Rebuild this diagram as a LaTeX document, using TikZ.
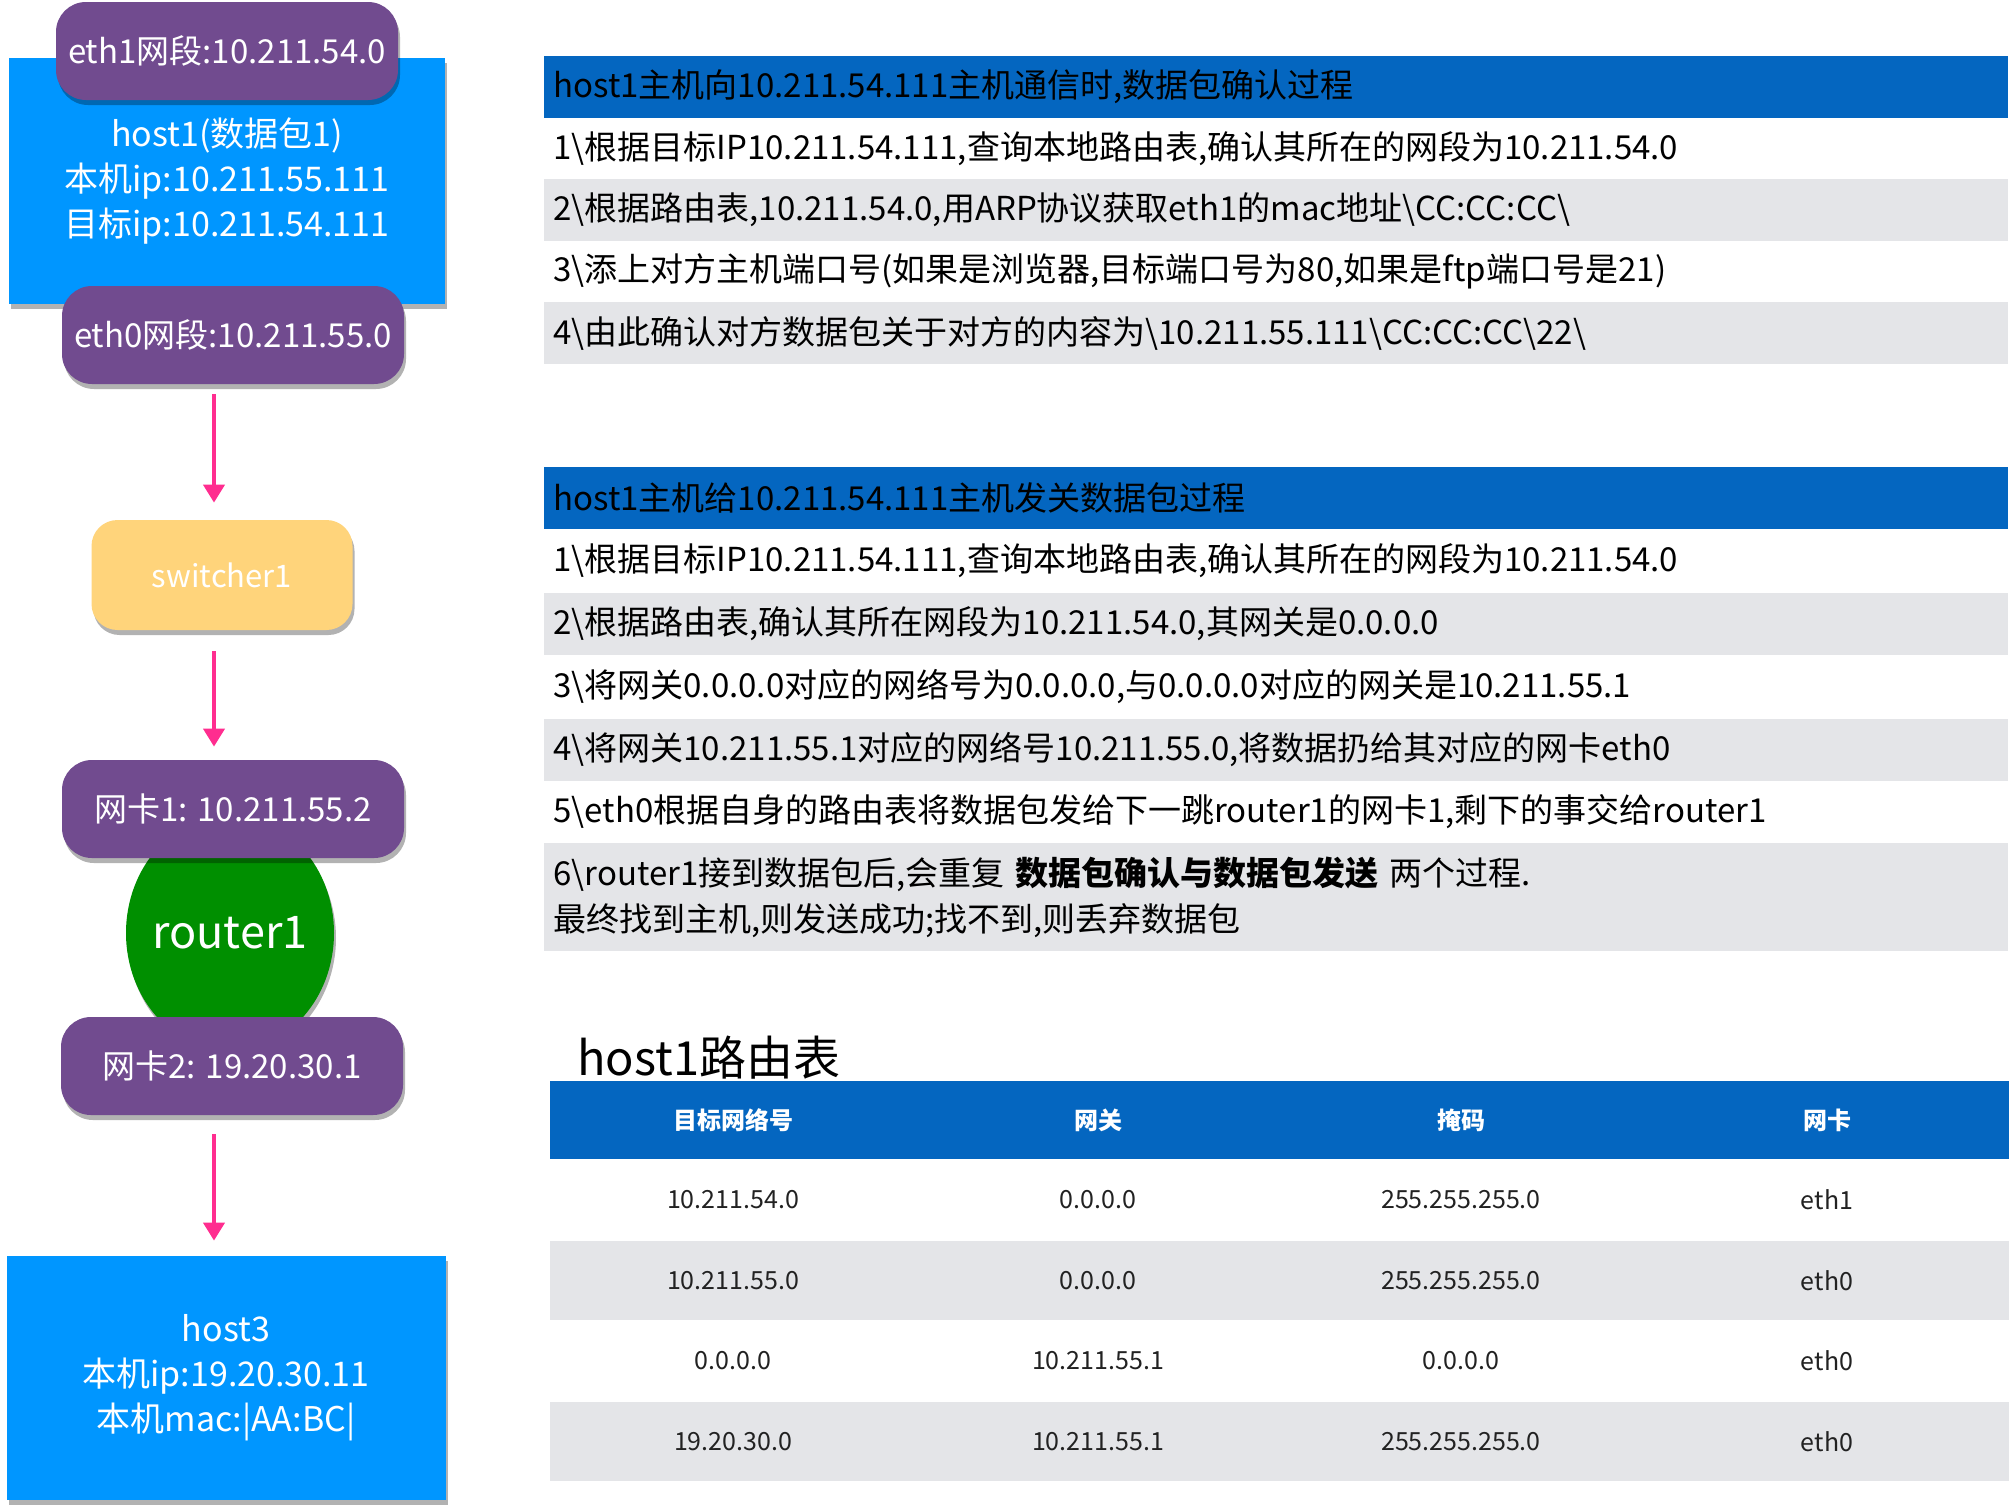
\documentclass[tikz,border=0pt]{standalone}
\usepackage{fontspec}
\setmainfont{Noto Sans CJK SC}
\usetikzlibrary{shapes.geometric,arrows.meta,shadows}
\newdimen\pxu \pxu=0.5pt
\definecolor{hostblue}{HTML}{0096FF}
\definecolor{pillpurple}{HTML}{714B8F}
\definecolor{swyellow}{HTML}{FFD47B}
\definecolor{rtgreen}{HTML}{008F00}
\definecolor{arrpink}{HTML}{FF2D8F}
\definecolor{hdrblue}{HTML}{0466C0}
\definecolor{rowgray}{HTML}{E4E5E8}
\definecolor{celltext}{HTML}{222222}
\begin{document}
\begin{tikzpicture}[x=0.5pt,y=-0.5pt,
  shad/.style={drop shadow={shadow xshift=1pt,shadow yshift=-2.5pt,opacity=0.3,fill=black}},
  hostbox/.style={shad, fill=hostblue, text=white, align=center, inner sep=0pt,
    minimum width=436\pxu, minimum height=246\pxu, font=\fontsize{17pt}{22.5pt}\selectfont},
  pill/.style={shad, fill=pillpurple, rounded corners=15pt, text=white, inner sep=0pt,
    minimum width=342\pxu, minimum height=98\pxu, font=\fontsize{16.5pt}{20pt}\selectfont},
  swbox/.style={shad, fill=swyellow, rounded corners=13pt, text=white, inner sep=0pt,
    minimum width=261\pxu, minimum height=110\pxu, font=\fontsize{15.5pt}{19pt}\selectfont},
  rtnode/.style={shad, ellipse, fill=rtgreen, inner sep=0pt,
    minimum width=208\pxu, minimum height=236\pxu},
  rttext/.style={text=white, inner sep=0pt, font=\fontsize{22.5pt}{26pt}\selectfont},
  arr/.style={draw=arrpink, line width=2pt, -{Triangle[width=10.5pt,length=9pt]}},
  rowbox/.style={anchor=west, inner xsep=9\pxu, inner ysep=0pt, text width=1446\pxu,
    minimum height=62\pxu, align=left, text=black, font=\fontsize{16.5pt}{23pt}\selectfont},
  hdr/.style={rowbox, fill=hdrblue},
  grayrow/.style={rowbox, fill=rowgray},
  tabrow/.style={anchor=west, inner sep=0pt, minimum width=1459\pxu, minimum height=79\pxu},
  th/.style={text=white, font=\fontsize{12pt}{14pt}\selectfont\bfseries},
  td/.style={text=celltext, font=\fontsize{12.5pt}{15pt}\selectfont}
]
\useasboundingbox (0,0) rectangle (2013,1510);
\fill[white] (0,0) rectangle (2013,1510);

% ---------------- left column ----------------
\node[hostbox] (host1) at (227,181) {\rule{0pt}{6pt}host1(数据包1)\\本机ip:10.211.55.111\\目标ip:10.211.54.111};
\node[pill] (eth1) at (227,51) {eth1网段:10.211.54.0};
\node[pill] (eth0) at (233,335) {eth0网段:10.211.55.0};
\node[swbox] (sw) at (222,575) {switcher1};
\node[rtnode] (rt) at (230,933) {};
\node[rttext] (rtlabel) at (rt.center) {router1};
\node[pill] (nic1) at (233,809) {网卡1: 10.211.55.2};
\node[pill] (nic2) at (232,1066) {网卡2: 19.20.30.1};
\node[hostbox, minimum width=439\pxu, minimum height=244\pxu] (host3) at (226,1378)
  {host3\\本机ip:19.20.30.11\\本机mac:|AA:BC|};

\coordinate (ax) at (214,0);
\draw[arr, shorten <=10\pxu, shorten >=17\pxu] (eth0.south -| ax) -- (sw.north -| ax);
\draw[arr, shorten <=21\pxu, shorten >=13\pxu] (sw.south -| ax) -- (nic1.north -| ax);
\draw[arr, shorten <=19\pxu, shorten >=15\pxu] (nic2.south -| ax) -- (host3.north -| ax);

% ---------------- section 1 ----------------
\node[hdr] (s1h) at (544,87) {host1主机向10.211.54.111主机通信时,数据包确认过程};
\node[rowbox] (s1r1) at (544,148.5) {1\textbackslash 根据目标IP10.211.54.111,查询本地路由表,确认其所在的网段为10.211.54.0};
\node[grayrow] (s1r2) at (544,210) {2\textbackslash 根据路由表,10.211.54.0,用ARP协议获取eth1的mac地址\textbackslash CC:CC:CC\textbackslash};
\node[rowbox] (s1r3) at (544,271.5) {3\textbackslash 添上对方主机端口号(如果是浏览器,目标端口号为80,如果是ftp端口号是21)};
\node[grayrow] (s1r4) at (544,333) {4\textbackslash 由此确认对方数据包关于对方的内容为\textbackslash 10.211.55.111\textbackslash CC:CC:CC\textbackslash 22\textbackslash};

% ---------------- section 2 ----------------
\node[hdr] (s2h) at (544,498) {host1主机给10.211.54.111主机发关数据包过程};
\node[rowbox] (s2r1) at (544,560.5) {1\textbackslash 根据目标IP10.211.54.111,查询本地路由表,确认其所在的网段为10.211.54.0};
\node[grayrow] (s2r2) at (544,623.5) {2\textbackslash 根据路由表,确认其所在网段为10.211.54.0,其网关是0.0.0.0};
\node[rowbox] (s2r3) at (544,686.5) {3\textbackslash 将网关0.0.0.0对应的网络号为0.0.0.0,与0.0.0.0对应的网关是10.211.55.1};
\node[grayrow] (s2r4) at (544,749.5) {4\textbackslash 将网关10.211.55.1对应的网络号10.211.55.0,将数据扔给其对应的网卡eth0};
\node[rowbox] (s2r5) at (544,812) {5\textbackslash eth0根据自身的路由表将数据包发给下一跳router1的网卡1,剩下的事交给router1};
\node[grayrow, minimum height=108\pxu] (s2r6) at (544,897) {6\textbackslash router1接到数据包后,会重复 \textbf{数据包确认与数据包发送} 两个过程.\\最终找到主机,则发送成功;找不到,则丢弃数据包};

% ---------------- routing table ----------------
\node[anchor=base west, inner sep=0pt, text=black, font=\fontsize{23.5pt}{28pt}\selectfont] (title) at (577,1075) {host1路由表};
\node[tabrow, fill=hdrblue, minimum height=78\pxu] (thead) at (550,1120) {};
\node[tabrow, minimum height=82\pxu] (tr1) at (550,1200) {};
\node[tabrow, fill=rowgray] (tr2) at (550,1280.5) {};
\node[tabrow, minimum height=82\pxu] (tr3) at (550,1361) {};
\node[tabrow, fill=rowgray] (tr4) at (550,1441.5) {};

\node[th] (h1) at (733,1120) {目标网络号};
\node[th] (h2) at (1098,1120) {网关};
\node[th] (h3) at (1461,1120) {掩码};
\node[th] (h4) at (1827,1120) {网卡};

\node[td] (c11) at (733,1200) {10.211.54.0};
\node[td] (c12) at (1098,1200) {0.0.0.0};
\node[td] (c13) at (1461,1200) {255.255.255.0};
\node[td] (c14) at (1827,1200) {eth1};

\node[td] (c21) at (733,1281) {10.211.55.0};
\node[td] (c22) at (1098,1281) {0.0.0.0};
\node[td] (c23) at (1461,1281) {255.255.255.0};
\node[td] (c24) at (1827,1281) {eth0};

\node[td] (c31) at (733,1361) {0.0.0.0};
\node[td] (c32) at (1098,1361) {10.211.55.1};
\node[td] (c33) at (1461,1361) {0.0.0.0};
\node[td] (c34) at (1827,1361) {eth0};

\node[td] (c41) at (733,1442) {19.20.30.0};
\node[td] (c42) at (1098,1442) {10.211.55.1};
\node[td] (c43) at (1461,1442) {255.255.255.0};
\node[td] (c44) at (1827,1442) {eth0};
\end{tikzpicture}
\end{document}
